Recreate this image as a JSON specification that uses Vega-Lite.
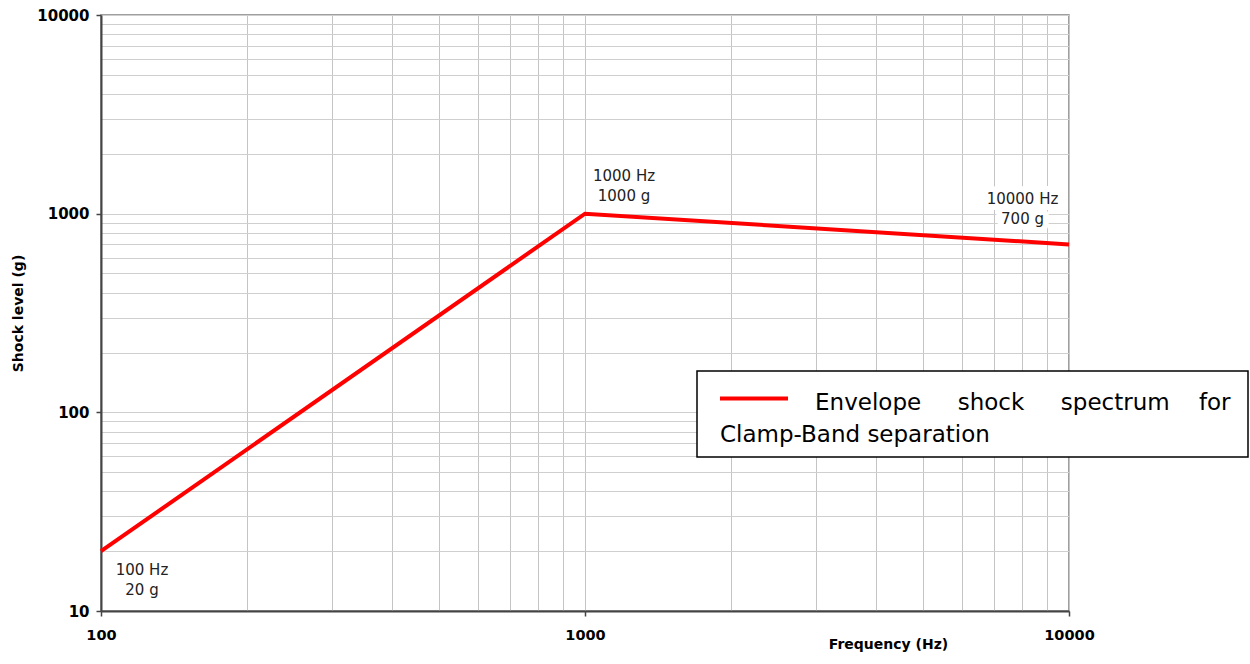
{
  "$schema": "https://vega.github.io/schema/vega-lite/v6.json",
  "width": 968,
  "height": 596,
  "autosize": {"type": "none"},
  "padding": {"left": 101, "top": 15, "right": 181, "bottom": 53},
  "background": "white",
  "config": {
    "view": {"stroke": "#808080", "strokeWidth": 1.5},
    "font": "DejaVu Sans",
    "legend": {"strokeWidth": 1.5},
    "style": {"guide-label": {"lineHeight": 32}}
  },
  "data": {
    "values": [
      {"f": 100, "g": 20, "lab": "100 Hz\n20 g", "s": "Envelope shock spectrum for Clamp-Band separation"},
      {"f": 1000, "g": 1000, "lab": "1000 Hz\n1000 g", "s": "Envelope shock spectrum for Clamp-Band separation"},
      {"f": 10000, "g": 700, "lab": "10000 Hz\n700 g", "s": "Envelope shock spectrum for Clamp-Band separation"}
    ]
  },
  "encoding": {
    "x": {
      "field": "f",
      "type": "quantitative",
      "scale": {"type": "log", "domain": [100, 10000], "nice": false},
      "axis": {
        "values": [100, 200, 300, 400, 500, 600, 700, 800, 900, 1000, 2000, 3000, 4000, 5000, 6000, 7000, 8000, 9000, 10000],
        "title": "Frequency (Hz)",
        "titleFont": "DejaVu Sans",
        "titleFontWeight": "bold",
        "titleFontSize": 14,
        "titleColor": "black",
        "titleX": 787,
        "titleY": 37,
        "titleAlign": "center",
        "titleBaseline": "alphabetic",
        "labelExpr": "indexof([100,1000,10000], datum.value) >= 0 ? format(datum.value, 'd') : ''",
        "labelFont": "DejaVu Sans",
        "labelFontSize": 14.5,
        "labelFontWeight": "bold",
        "labelColor": "black",
        "labelPadding": 12,
        "labelOverlap": false,
        "labelFlush": false,
        "labelBound": false,
        "grid": true,
        "gridColor": "#c4c4c4",
        "gridWidth": 1,
        "tickSize": 5,
        "tickColor": "#444444",
        "tickWidth": 1.5,
        "tickOpacity": {"condition": {"test": "indexof([100,1000,10000], datum.value) >= 0", "value": 1}, "value": 0},
        "domainColor": "#444444",
        "domainWidth": 2
      }
    },
    "y": {
      "field": "g",
      "type": "quantitative",
      "scale": {"type": "log", "domain": [10, 10000], "nice": false},
      "axis": {
        "values": [10, 20, 30, 40, 50, 60, 70, 80, 90, 100, 200, 300, 400, 500, 600, 700, 800, 900, 1000, 2000, 3000, 4000, 5000, 6000, 7000, 8000, 9000, 10000],
        "title": "Shock level (g)",
        "titleFont": "DejaVu Sans",
        "titleFontWeight": "bold",
        "titleFontSize": 14,
        "titleColor": "black",
        "titleX": -79,
        "titleY": 298,
        "titleAlign": "center",
        "titleBaseline": "alphabetic",
        "labelExpr": "indexof([10,100,1000,10000], datum.value) >= 0 ? format(datum.value, 'd') : ''",
        "labelFont": "DejaVu Sans",
        "labelFontSize": 15,
        "labelFontWeight": "bold",
        "labelColor": "black",
        "labelPadding": 7,
        "labelOverlap": false,
        "labelFlush": false,
        "labelBound": false,
        "grid": true,
        "gridColor": "#cfcfcf",
        "gridWidth": 1,
        "tickSize": 5,
        "tickColor": "#444444",
        "tickWidth": 1.5,
        "tickOpacity": {"condition": {"test": "indexof([10,100,1000,10000], datum.value) >= 0", "value": 1}, "value": 0},
        "domainColor": "#444444",
        "domainWidth": 2
      }
    }
  },
  "layer": [
    {
      "mark": {"type": "line", "strokeWidth": 4},
      "encoding": {
        "color": {
          "field": "s",
          "type": "nominal",
          "scale": {"range": ["#ff0000"]},
          "legend": {
            "title": null,
            "orient": "none",
            "legendX": 596,
            "legendY": 356,
            "strokeColor": "black",
            "fillColor": "white",
            "padding": 10,
            "symbolType": "M-0.45,-0.225H2.95",
            "symbolSize": 1600,
            "symbolStrokeWidth": 4,
            "labelFont": "DejaVu Sans",
            "labelFontSize": 23,
            "labelColor": "black",
            "labelLimit": 800,
            "labelOffset": -31,
            "labelExpr": "['\u200b\u00a0\u00a0\u00a0\u00a0\u00a0\u00a0\u00a0\u00a0\u00a0\u00a0\u00a0\u00a0\u00a0Envelope\u00a0\u00a0\u00a0\u00a0\u00a0shock\u00a0\u00a0\u00a0\u00a0\u00a0spectrum\u00a0\u00a0\u00a0\u00a0for\u00a0\u200b', 'Clamp-Band separation']"
          }
        }
      }
    },
    {
      "transform": [{"filter": "datum.f == 10000"}],
      "mark": {"type": "text", "font": "DejaVu Sans", "fontSize": 15, "lineBreak": "\n", "lineHeight": 20, "align": "center", "baseline": "alphabetic", "dx": -46.5, "dy": -40, "color": "white", "stroke": "white", "strokeWidth": 12, "strokeJoin": "round"},
      "encoding": {"text": {"field": "lab"}}
    },
    {
      "transform": [{"filter": "datum.f == 100"}],
      "mark": {"type": "text", "font": "DejaVu Sans", "fontSize": 15, "lineBreak": "\n", "lineHeight": 20, "align": "center", "baseline": "alphabetic", "dx": 41, "dy": 24, "color": "#222222"},
      "encoding": {"text": {"field": "lab"}}
    },
    {
      "transform": [{"filter": "datum.f == 1000"}],
      "mark": {"type": "text", "font": "DejaVu Sans", "fontSize": 15, "lineBreak": "\n", "lineHeight": 20, "align": "center", "baseline": "alphabetic", "dx": 39, "dy": -33, "color": "#222222"},
      "encoding": {"text": {"field": "lab"}}
    },
    {
      "transform": [{"filter": "datum.f == 10000"}],
      "mark": {"type": "text", "font": "DejaVu Sans", "fontSize": 15, "lineBreak": "\n", "lineHeight": 20, "align": "center", "baseline": "alphabetic", "dx": -46.5, "dy": -40, "color": "#222222"},
      "encoding": {"text": {"field": "lab"}}
    }
  ]
}
